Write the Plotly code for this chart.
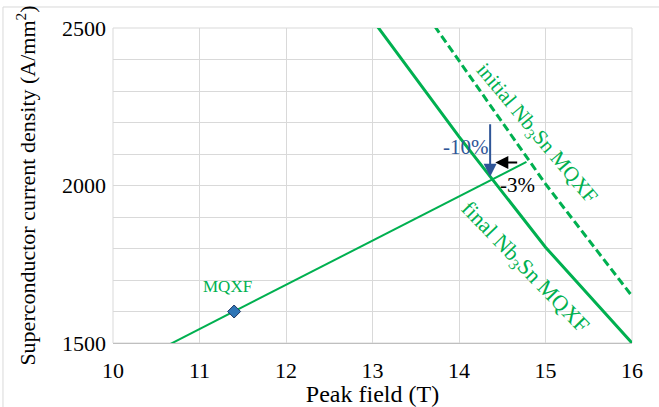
import plotly.graph_objects as go

# Data
final_B = [13, 14, 15, 16]
final_J = [2526, 2155, 1804, 1500]
initial_B = [13, 14, 15, 16]
initial_J = [2787, 2396, 2005, 1649]
load_B = [10.6, 14.78]
load_J = [1488, 2075]
mqxf_B = [11.4]
mqxf_J = [1600]

GREEN = "#00B050"
BLUE = "#2F5597"
FONT = "Times New Roman, Liberation Serif, serif"

fig = go.Figure()
fig.add_trace(go.Scatter(x=load_B, y=load_J, mode="lines",
                         line=dict(color=GREEN, width=2), showlegend=False))
fig.add_trace(go.Scatter(x=final_B, y=final_J, mode="lines",
                         line=dict(color=GREEN, width=3), showlegend=False))
fig.add_trace(go.Scatter(x=initial_B, y=initial_J, mode="lines",
                         line=dict(color=GREEN, width=3, dash="8px,4px"), showlegend=False))
fig.add_trace(go.Scatter(x=mqxf_B, y=mqxf_J, mode="markers",
                         marker=dict(symbol="diamond", size=10, color="#2E75B6",
                                     line=dict(color="#203864", width=1)),
                         showlegend=False))

annotations = [
    dict(x=14.36, y=2028, ax=14.36, ay=2199, xref="x", yref="y", axref="x", ayref="y",
         showarrow=True, arrowhead=2, arrowsize=1.3, arrowwidth=2, arrowcolor=BLUE, text=""),
    dict(x=14.42, y=2073, ax=14.69, ay=2073, xref="x", yref="y", axref="x", ayref="y",
         showarrow=True, arrowhead=2, arrowsize=1.3, arrowwidth=2, arrowcolor="black", text=""),
    dict(x=14.08, y=2123, text="-10%", showarrow=False,
         font=dict(family=FONT, size=21, color=BLUE)),
    dict(x=14.68, y=2003, text="-3%", showarrow=False,
         font=dict(family=FONT, size=21, color="black")),
    dict(x=11.32, y=1680, text="MQXF", showarrow=False,
         font=dict(family=FONT, size=17, color=GREEN)),
    dict(x=14.90, y=2165, text="initial Nb<sub>3</sub>Sn MQXF", showarrow=False, textangle=50,
         font=dict(family=FONT, size=21, color=GREEN)),
    dict(x=14.76, y=1738, text="final Nb<sub>3</sub>Sn MQXF", showarrow=False, textangle=46,
         font=dict(family=FONT, size=22, color=GREEN)),
]

shapes = [
    dict(type="rect", xref="paper", yref="paper", x0=0, x1=1, y0=0, y1=1,
         line=dict(color="#D9D9D9", width=1), layer="below"),
    dict(type="rect", xref="paper", yref="paper", x0=-0.212, x1=2, y0=-1, y1=1.0667,
         line=dict(color="#D9D9D9", width=1), layer="below"),
]

fig.update_layout(
    width=659, height=407,
    margin=dict(l=113, r=27, t=28, b=64),
    paper_bgcolor="white", plot_bgcolor="white",
    font=dict(family=FONT, size=22, color="black"),
    annotations=annotations, shapes=shapes,
    xaxis=dict(range=[10, 16], dtick=1, showgrid=True, gridcolor="#D9D9D9", gridwidth=1,
               zeroline=False, showline=True, linecolor="#BFBFBF", linewidth=1,
               automargin=False,
               ticks="", ticklabelstandoff=8, tickfont=dict(family=FONT, size=22),
               title=dict(text="Peak field (T)", font=dict(family=FONT, size=24), standoff=10)),
    yaxis=dict(range=[1500, 2500], dtick=500, showgrid=True, gridcolor="#D9D9D9", gridwidth=1,
               minor=dict(dtick=100, showgrid=True, gridcolor="#D9D9D9", gridwidth=1),
               zeroline=False, showline=False, ticks="", ticklabelstandoff=6,
               automargin=False,
               tickfont=dict(family=FONT, size=22),
               title=dict(text="Superconductor current density (A/mm<sup>2</sup>)",
                          font=dict(family=FONT, size=22), standoff=20)),
)

fig.write_html("out.html")
